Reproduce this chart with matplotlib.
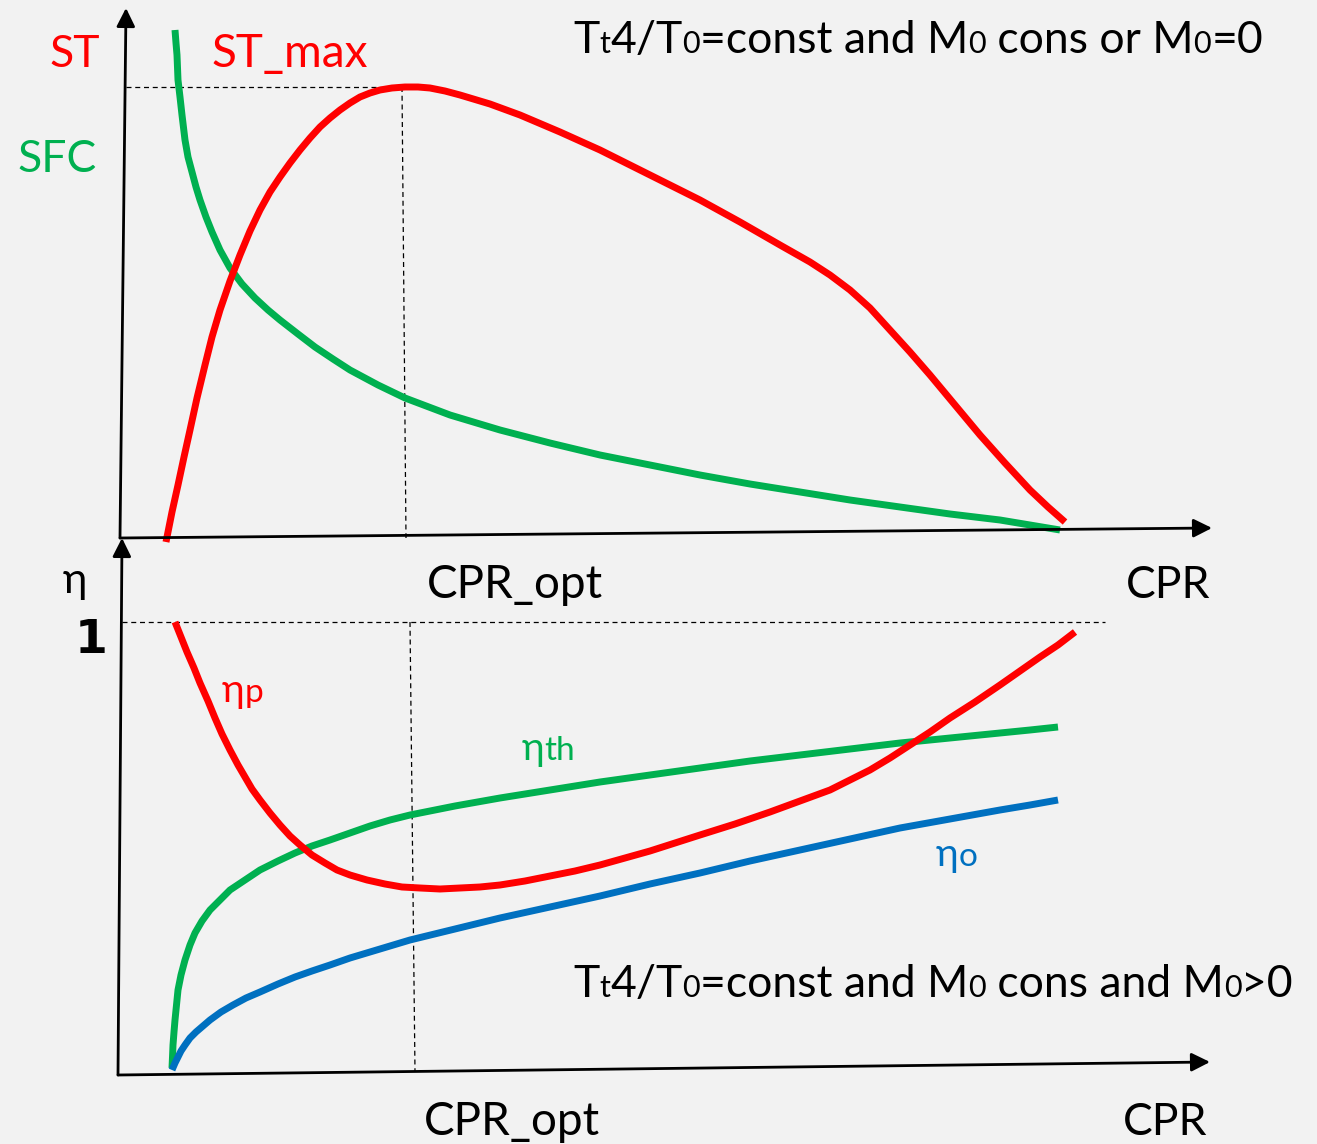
import matplotlib.pyplot as plt

plt.rcParams['font.family'] = ['Lato', 'DejaVu Sans']

# ---------------------------------------------------------------------------
# curve data (pixel coords, y grows downward)
# ---------------------------------------------------------------------------
st_x = [166, 172, 178, 184, 190, 197, 205, 212, 220, 230, 240, 250, 260, 270, 280, 290,
        300, 310, 320, 330, 340, 350, 360, 370, 380, 392, 405, 418, 430, 445, 460,
        490, 520, 560, 600, 650, 700, 740, 780, 810, 830, 850, 870, 890, 910, 930,
        955, 980, 1005, 1030, 1048, 1065]
st_y = [542, 512, 485, 457, 430, 398, 365, 337, 310, 281, 255, 231, 210, 192, 177, 163,
        150, 138, 127, 118, 110, 103, 97, 93, 90, 88, 87, 87, 88, 91, 95,
        104, 115, 132, 150, 175, 200, 222, 245, 262, 275, 290, 308, 330, 352, 375,
        405, 435, 463, 490, 507, 522]

sfc_x = [175, 176, 177, 178, 180, 182, 185, 188, 192, 196, 200, 206, 212, 220, 230, 242,
         255, 268, 280, 298, 315, 333, 350, 378, 405, 450, 500, 550, 600, 650, 700,
         750, 800, 850, 900, 950, 1000, 1030, 1060]
sfc_y = [30, 43, 55, 80, 97, 115, 140, 157, 172, 187, 200, 217, 232, 250, 268, 284,
         298, 310, 320, 334, 347, 359, 370, 385, 398, 415, 430, 443, 455, 465, 475,
         484, 492, 500, 507, 514, 520, 525, 530]

etap_x = [175, 181, 187, 194, 200, 208, 215, 222, 230, 238, 245, 252, 260, 270, 280, 290,
          300, 312, 325, 337, 350, 367, 385, 402, 420, 440, 460, 480, 500, 525, 550,
          575, 600, 625, 650, 675, 700, 735, 770, 800, 830, 850, 870, 890, 910, 930,
          950, 975, 1000, 1020, 1040, 1058, 1075]
etap_y = [622, 637, 652, 668, 683, 701, 718, 734, 750, 765, 777, 789, 800, 813, 825, 836,
          845, 855, 863, 870, 875, 880, 884, 887, 888, 889, 888, 887, 885, 881, 876,
          871, 865, 858, 851, 843, 835, 824, 812, 801, 790, 780, 770, 758, 745, 732,
          718, 702, 685, 671, 657, 645, 632]

etath_x = [172, 172.5, 173, 174, 175, 176.5, 178, 181, 185, 190, 195, 202, 210, 220, 230,
           245, 260, 278, 295, 312, 330, 350, 370, 390, 410, 455, 500, 550, 600, 650,
           700, 750, 800, 850, 900, 950, 1000, 1030, 1058]
etath_y = [1068, 1057, 1045, 1032, 1020, 1005, 990, 975, 960, 945, 933, 921, 910, 900, 890,
           880, 870, 861, 853, 846, 840, 833, 826, 820, 815, 806, 798, 790, 782, 775,
           768, 761, 755, 749, 743, 738, 733, 730, 727]

etao_x = [172, 175, 178, 181, 185, 190, 196, 203, 210, 221, 233, 246, 260, 278, 295, 312,
          330, 350, 370, 390, 410, 455, 500, 550, 600, 650, 700, 750, 800, 850, 900,
          950, 1000, 1030, 1058]
etao_y = [1070, 1063, 1057, 1051, 1045, 1038, 1032, 1026, 1020, 1012, 1005, 998, 992, 984, 977, 971,
          965, 958, 952, 946, 940, 929, 918, 907, 896, 884, 873, 861, 850, 839, 828,
          819, 810, 805, 800]

RED = '#ff0000'
GREEN = '#00b050'
BLUE = '#0070c0'

fig = plt.figure(figsize=(13.17, 11.44), dpi=100)
fig.patch.set_facecolor('#f2f2f2')
ax = fig.add_axes([0, 0, 1, 1])
ax.set_facecolor('#f2f2f2')
ax.set_xlim(0, 1317)
ax.set_ylim(1144, 0)
ax.axis('off')


def arrow(x0, y0, x1, y1):
    ax.annotate('', xy=(x1, y1), xytext=(x0, y0),
                arrowprops=dict(arrowstyle='-|>', lw=2, color='k', mutation_scale=28,
                                shrinkA=0, shrinkB=0))


def rich(x, y, pieces, color):
    # draw a row of text pieces of different sizes, one after the other
    r = fig.canvas.get_renderer()
    for s, size in pieces:
        t = ax.text(x, y, s, fontsize=size, color=color, va='baseline', ha='left')
        bb = t.get_window_extent(r)
        x = ax.transData.inverted().transform((bb.x1, bb.y0))[0]


# axes
arrow(120, 538, 126, 8)
arrow(120, 538, 1212, 528)
arrow(118, 1075, 122, 538)
arrow(118, 1075, 1210, 1062)

# dashed guides
ax.plot([126, 402], [87, 87], 'k--', lw=0.9, dashes=(4, 3))
ax.plot([402, 406], [87, 538], 'k--', lw=0.9, dashes=(4, 3))
ax.plot([122, 1105], [622, 622], 'k--', lw=0.9, dashes=(4, 3))
ax.plot([410, 415], [622, 1072], 'k--', lw=0.9, dashes=(4, 3))

# curves
LW = 5
kw = dict(lw=LW, solid_capstyle='butt', solid_joinstyle='round')
ax.plot(sfc_x, sfc_y, color=GREEN, **kw)
ax.plot(st_x, st_y, color=RED, **kw)
ax.plot(etath_x, etath_y, color=GREEN, **kw)
ax.plot(etao_x, etao_y, color=BLUE, **kw)
ax.plot(etap_x, etap_y, color=RED, **kw)

# labels
FS = 32
ax.text(49, 67, 'ST', fontsize=FS, color=RED, va='baseline')
ax.text(212, 67, 'ST_max', fontsize=33, color=RED, va='baseline')
ax.text(17, 172, 'SFC', fontsize=FS, color=GREEN, va='baseline')

rich(573, 53, [('T', FS), ('t', 22), ('4/T', FS), ('0', 22), ('=const and M', FS), ('0', 22),
               (' cons or M', FS), ('0', 22), ('=0', FS)], 'k')
rich(573, 997, [('T', FS), ('t', 22), ('4/T', FS), ('0', 22), ('=const and M', FS), ('0', 22),
                (' cons and M', FS), ('0', 22), ('>0', FS)], 'k')

ax.text(427, 598, 'CPR_opt', fontsize=33, color='k', va='baseline')
ax.text(1126, 598, 'CPR', fontsize=FS, color='k', va='baseline')
ax.text(424, 1135, 'CPR_opt', fontsize=33, color='k', va='baseline')
ax.text(1123, 1135, 'CPR', fontsize=FS, color='k', va='baseline')

ax.text(63, 593, 'η', fontsize=30, color='k', va='baseline')
ax.text(75, 653, '1', fontsize=34, color='k', va='baseline', fontweight='bold',
        family=['DejaVu Sans'])

rich(222, 702, [('η', 28), ('p', 24)], RED)
rich(522, 760, [('η', 28), ('th', 24)], GREEN)
rich(936, 866, [('η', 28), ('o', 24)], BLUE)

fig.savefig('out.png', dpi=100, facecolor=fig.get_facecolor())
